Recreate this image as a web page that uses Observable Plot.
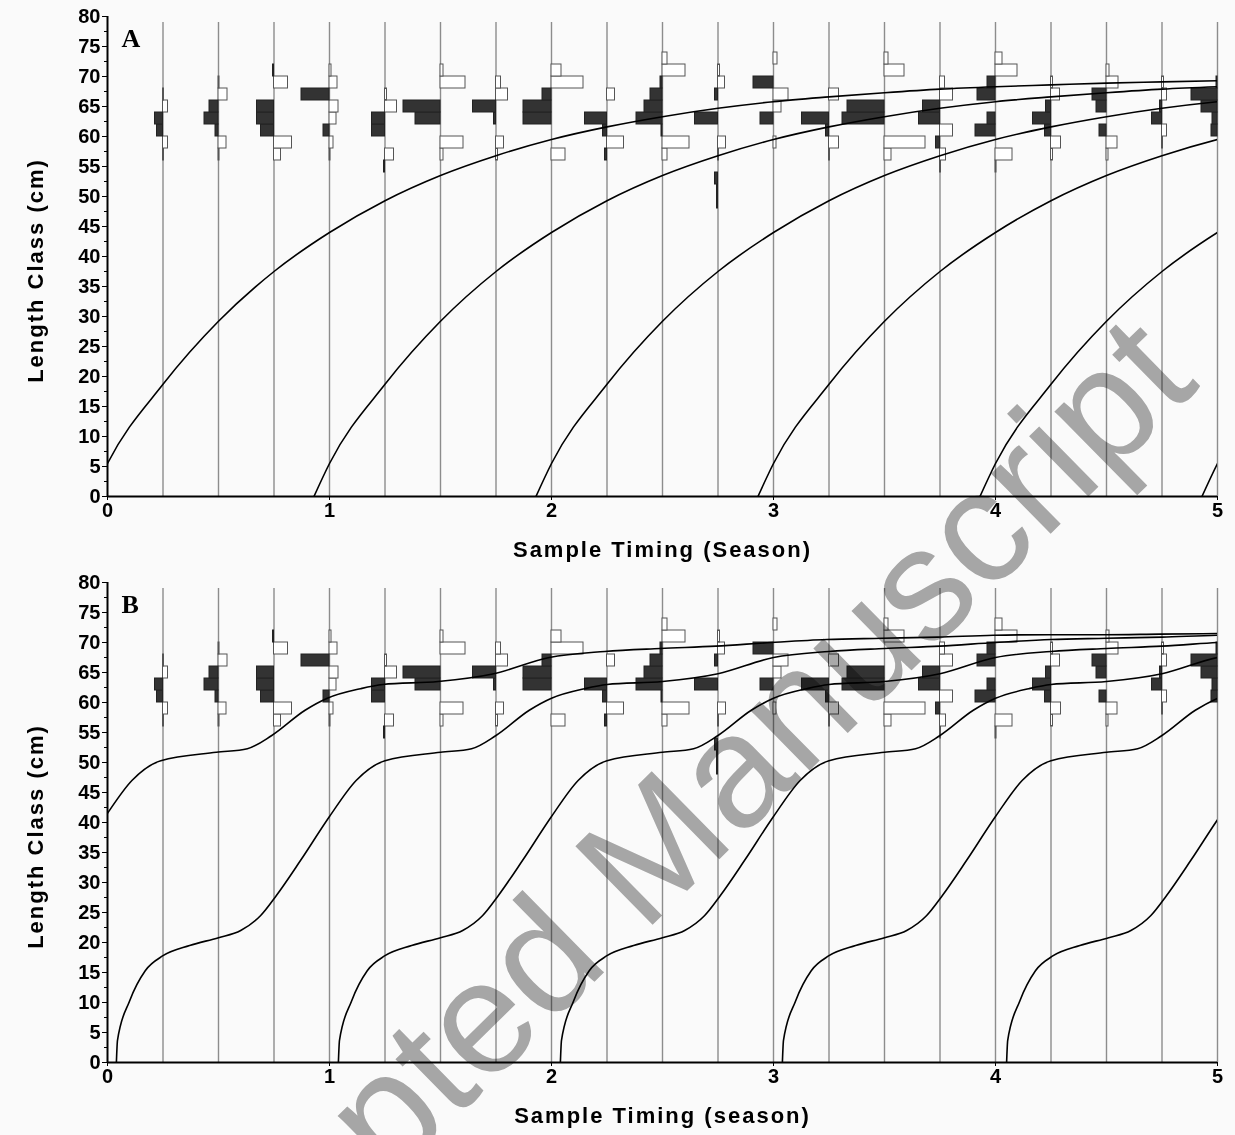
<!DOCTYPE html>
<html><head><meta charset="utf-8">
<script src="https://cdn.jsdelivr.net/npm/d3@7"></script>
<script src="https://cdn.jsdelivr.net/npm/@observablehq/plot@0.6"></script>
<style>
body{margin:0;background:#fafafa;width:1235px;height:1135px;overflow:hidden;position:relative}
#chart svg{display:block}
#wm{position:absolute;left:630px;top:870px;font:160px "Liberation Sans",Arial,sans-serif;color:#a9a9a9;mix-blend-mode:multiply;transform:translate(-50%,-50%) rotate(-44.5deg);white-space:nowrap;pointer-events:none;line-height:1.15}
</style></head><body><div id="chart"></div><div id="wm">Accepted Manuscript</div>
<script>
// Sample timings (season) at which length-frequency samples are drawn
const sampleTimes = [0.25,0.5,0.75,1.0,1.25,1.5,1.75,2.0,2.25,2.5,2.75,3.0,3.25,3.5,3.75,4.0,4.25,4.5,4.75,5.0];
// Lower edges of the 2-cm length classes
const binStart = [48,50,52,54,56,58,60,62,64,66,68,70,72];
// Observed frequencies (dark bars, drawn to the left of each sample line)
const observedFreq = [
  [0,0,0,0,0,0,6,8,0,0,0,0,0],
  [0,0,0,0,0,0,3,14,9,0,0,0,0],
  [0,0,0,0,0,0,13,17,17,0,0,1,0],
  [0,0,0,0,0,0,6,0,0,28,0,0,0],
  [0,0,0,1,0,0,13,13,0,0,0,0,0],
  [0,0,0,0,0,0,0,25,37,0,0,0,0],
  [0,0,0,0,0,0,0,2,23,0,0,0,0],
  [0,0,0,0,0,0,0,28,28,9,0,0,0],
  [0,0,0,0,2,0,4,22,0,0,0,0,0],
  [0,0,0,0,0,0,1,26,18,12,2,0,0],
  [1,1,3,0,0,0,0,23,0,3,0,0,0],
  [0,0,0,0,0,0,0,13,0,0,20,0,0],
  [0,0,0,0,0,0,3,27,0,0,0,0,0],
  [0,0,0,0,0,0,0,42,37,0,0,0,0],
  [0,0,0,0,0,4,0,21,17,0,0,0,0],
  [0,0,0,0,0,0,20,8,0,18,8,0,0],
  [0,0,0,0,0,0,6,18,5,0,0,0,0],
  [0,0,0,0,0,0,7,0,10,14,0,0,0],
  [0,0,0,0,0,0,0,10,2,0,0,0,0],
  [0,0,0,0,0,0,6,5,16,26,1,0,0]
];
// Predicted frequencies (open bars, drawn to the right of each sample line)
const predictedFreq = [
  [0,0,0,0,1,5,0,0,5,1,0,0,0],
  [0,0,0,0,1,8,0,0,0,9,1,0,0],
  [0,0,0,0,7,18,0,0,0,0,14,0,0],
  [0,0,0,0,1,4,0,7,9,0,8,2,0],
  [0,0,0,0,9,0,0,0,12,2,0,0,0],
  [0,0,0,0,3,23,0,0,0,0,25,3,0],
  [0,0,0,0,2,8,0,0,0,12,5,0,0],
  [0,0,0,0,14,0,0,0,0,0,32,10,0],
  [0,0,0,0,0,17,0,0,0,8,0,0,0],
  [0,0,0,0,5,27,0,0,0,0,0,23,5],
  [0,0,0,0,1,8,0,0,0,0,7,2,0],
  [0,0,0,0,0,3,0,0,8,15,0,0,4],
  [0,0,0,0,1,10,0,0,0,10,0,0,0],
  [0,0,0,0,7,41,0,0,0,0,0,20,4],
  [0,0,0,1,6,0,13,0,0,13,5,0,0],
  [0,0,0,1,17,0,0,0,0,0,0,22,7],
  [0,0,0,0,2,10,0,0,0,9,2,0,0],
  [0,0,0,0,2,11,0,0,0,0,12,3,0],
  [0,0,0,0,0,1,5,0,0,5,2,0,0],
  [0,0,0,0,0,0,0,0,0,0,0,0,0]
];
// Panel A: von Bertalanffy growth curve (age since length 0, length cm)
const ageA = [0,0.07,0.32,0.57,0.82,1.07,1.32,1.57,1.82,2.07,2.32,2.57,2.82,3.07,3.32,3.57,3.82,4.07,4.32,4.57,4.82,5.07];
const lenA = [0,5.5,18.7,29.2,37.5,44,49.3,53.5,56.8,59.5,61.6,63.3,64.7,65.8,66.6,67.3,67.9,68.3,68.6,68.9,69.1,69.3];
const birthA = [-0.07,0.93,1.93,2.93,3.93,4.93];
// Panel B: seasonal growth curve
const ageB = [0,0.005,0.06,0.13,0.21,0.33,0.46,0.56,0.65,0.72,0.83,0.96,1.08,1.21,1.46,1.6,1.71,1.86,1.96,2.11,2.21,2.46,2.71,2.96,3.21,3.46,3.71,3.96,4.21,4.46,4.71,4.96,5.21,5.46,5.71,6.0];
const lenB = [0,3.7,10.3,15.3,17.8,19.5,20.8,22,24.5,27.8,33.7,41,47,50.3,51.7,52.3,54.5,58.7,60.7,62.3,63,63.5,64.8,67.5,68.5,69,69.4,70,70.5,70.7,70.9,71.2,71.3,71.3,71.4,71.5];
const birthB = [-0.97,0.04,1.04,2.04,3.04,4.05];

const yTicks = d3.range(0, 81, 5);
const yMinor = d3.range(2.5, 80, 5);
const xTicks = [0,1,2,3,4,5];
const yTitle = "Length Class (cm)";

const k = 5 / 1110; // season units per frequency unit
const obsRows = [], predRows = [];
sampleTimes.forEach((t, i) => binStart.forEach((b, j) => {
  if (observedFreq[i][j] > 0) obsRows.push({t, y1: b, y2: b + 2, n: observedFreq[i][j]});
  if (predictedFreq[i][j] > 0) predRows.push({t, y1: b, y2: b + 2, n: predictedFreq[i][j]});
}));

function panel(ages, lens, births, xLabel, letter) {
  const rows = births.flatMap((b, c) => ages.map((a, i) => ({cohort: c, t: b + a, L: lens[i]})));
  const font = "'Liberation Sans', Arial, sans-serif";
  const svg = Plot.plot({
    width: 1235, height: 566,
    marginLeft: 107, marginRight: 18, marginTop: 16, marginBottom: 70,
    x: {domain: [0, 5]}, y: {domain: [0, 80]},
    style: {fontFamily: font, background: "#fafafa", color: "black", overflow: "visible"},
    marks: [
      Plot.ruleX(sampleTimes, {y1: 0, y2: 79, stroke: "#8c8c8c", strokeWidth: 1.4}),
      Plot.rect(predRows, {x1: "t", x2: d => d.t + d.n * k, y1: "y1", y2: "y2", fill: "white", stroke: "#555", strokeWidth: 1}),
      Plot.rect(obsRows, {x1: d => d.t - d.n * k, x2: "t", y1: "y1", y2: "y2", fill: "#333", stroke: "#222", strokeWidth: 1}),
      Plot.line(rows, {x: "t", y: "L", z: "cohort", curve: "monotone-x", stroke: "black", strokeWidth: 1.6, clip: true}),
      Plot.ruleY([0], {stroke: "black", strokeWidth: 2}),
      Plot.ruleX([0], {stroke: "black", strokeWidth: 2}),
      Plot.axisY({ticks: yMinor, tickSize: 3, tickFormat: () => "", label: null}),
      Plot.axisY({ticks: yTicks, tickSize: 5, tickPadding: 2, fontSize: 20, fontWeight: "bold", tickFormat: d => String(d), label: null}),
      Plot.axisX({ticks: xTicks, tickSize: 4, tickPadding: 2, fontSize: 20, fontWeight: "bold", tickFormat: d => String(d), label: null}),
      Plot.text([yTitle], {text: d => d, frameAnchor: "left", textAnchor: "middle", rotate: -90, dx: -72, dy: 14, fontSize: 22, fontWeight: "bold"}),
      Plot.text([xLabel], {text: d => d, frameAnchor: "bottom", textAnchor: "middle", dy: 60, fontSize: 22, fontWeight: "bold"}),
      Plot.text([letter], {text: d => d, frameAnchor: "top-left", dx: 14, dy: 12, lineAnchor: "top", textAnchor: "start", fontSize: 26, fontWeight: "bold", fontFamily: "'Liberation Serif', 'Times New Roman', serif"})
    ]
  });
  d3.select(svg).selectAll("text").filter(function () {
    return this.textContent === yTitle || this.textContent === xLabel;
  }).attr("letter-spacing", 2);
  return svg;
}

const root = document.getElementById("chart");
root.appendChild(panel(ageA, lenA, birthA, "Sample Timing (Season)", "A"));
root.appendChild(panel(ageB, lenB, birthB, "Sample Timing (season)", "B"));
</script></body></html>
